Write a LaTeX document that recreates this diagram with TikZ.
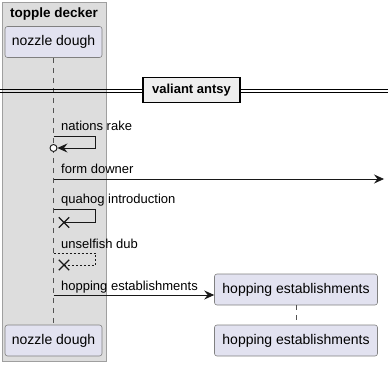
\documentclass[tikz,border=0pt]{standalone}
\usepackage{fontspec}
\setmainfont{Liberation Sans}
\usetikzlibrary{arrows.meta,positioning,shapes.misc}

\definecolor{groupfill}{HTML}{DDDDDD}
\definecolor{partfill}{HTML}{E2E2F0}
\definecolor{partline}{HTML}{181818}
\definecolor{dividerfill}{HTML}{EEEEEE}

\begin{document}
\begin{tikzpicture}[x=1pt, y=-1pt,
    groupbox/.style={draw=gray!75, fill=groupfill, line width=0.6pt, minimum width=104pt, minimum height=359pt, inner sep=0pt},
    participant/.style={draw=partline!55, fill=partfill, rounded corners=2.5pt, line width=0.6pt, font=\fontsize{14}{16}\selectfont, minimum height=31pt, inner sep=0pt},
    lifeline/.style={draw=partline!75, line width=0.5pt, dash pattern=on 5pt off 5pt},
    msg/.style={-{Stealth[length=10pt,width=9pt,inset=3.5pt]}, draw=partline, line width=0.8pt},
    msgline/.style={draw=partline, line width=0.8pt},
    msglabel/.style={anchor=base west, inner sep=0pt, font=\fontsize{13}{15}\selectfont},
    lostcircle/.style={circle, draw=partline, fill=white, line width=0.9pt, minimum size=7pt, inner sep=0pt},
    lostcross/.style={cross out, draw=partline, line width=1.4pt, minimum size=9pt, inner sep=0pt},
    sepline/.style={draw=black, line width=0.8pt},
    divider/.style={draw=black, fill=dividerfill, line width=1.4pt, minimum width=97pt, minimum height=25pt, font=\fontsize{13}{15}\selectfont\bfseries}
]
    \useasboundingbox (0,0) rectangle (388,366);

    % box holding the first participant
    \node[groupbox] (decker) at (54,181.5) {};
    \node[anchor=base, inner sep=0pt, font=\fontsize{13.5}{15}\selectfont\bfseries] (deckertitle) at (54,18) {topple decker};

    % participants
    \node[participant, minimum width=97pt] (dough) at (53.5,42) {nozzle dough};
    \node[participant, minimum width=97pt] (doughend) at (53.5,340.5) {nozzle dough};
    \node[participant, minimum width=163pt] (hopping) at (296,289.5) {hopping establishments};
    \node[participant, minimum width=163pt] (hoppingend) at (296,340.5) {hopping establishments};

    \draw[lifeline] (dough) -- (doughend);
    \draw[lifeline] (hopping) -- (hoppingend);

    % separator, two rules across the whole width
    \coordinate (sepleft) at (0,89);
    \coordinate (sepright) at (388,89);
    \coordinate (sepleftlow) at (0,92);
    \coordinate (seprightlow) at (388,92);
    \draw[sepline] (sepleft) -- (sepright);
    \draw[sepline] (sepleftlow) -- (seprightlow);
    \node[divider] (antsy) at (191.5,90) {valiant antsy};

    % messages
    \coordinate (rake) at (53.5,136);
    \node[lostcircle] (rakeend) at (53.5,148) {};
    \draw[msg] (rake) -- ++(42,0) |- (rakeend.east);
    \node[msglabel] (rakelabel) at (61,130.5) {nations rake};

    \coordinate (downer) at (53.5,179);
    \coordinate (downerend) at (384,179);
    \draw[msg] (downer) -- (downerend);
    \node[msglabel] (downerlabel) at (61,174) {form downer};

    \coordinate (quahog) at (53.5,209);
    \node[lostcross] (quahogx) at (64,222.5) {};
    \draw[msgline] (quahog) -- ++(42,0) |- (quahogx.center);
    \node[msglabel] (quahoglabel) at (61,204) {quahog introduction};

    \coordinate (dub) at (53.5,253);
    \node[lostcross] (dubx) at (64,265) {};
    \draw[msgline, dash pattern=on 2pt off 2pt] (dub) -- ++(42,0) |- (dubx.center);
    \node[msglabel] (dublabel) at (61,248) {unselfish dub};

    \coordinate (establish) at (53.5,295);
    \draw[msg] (establish) -- (establish -| hopping.west);
    \node[msglabel] (establishlabel) at (61,290) {hopping establishments};
\end{tikzpicture}
\end{document}
